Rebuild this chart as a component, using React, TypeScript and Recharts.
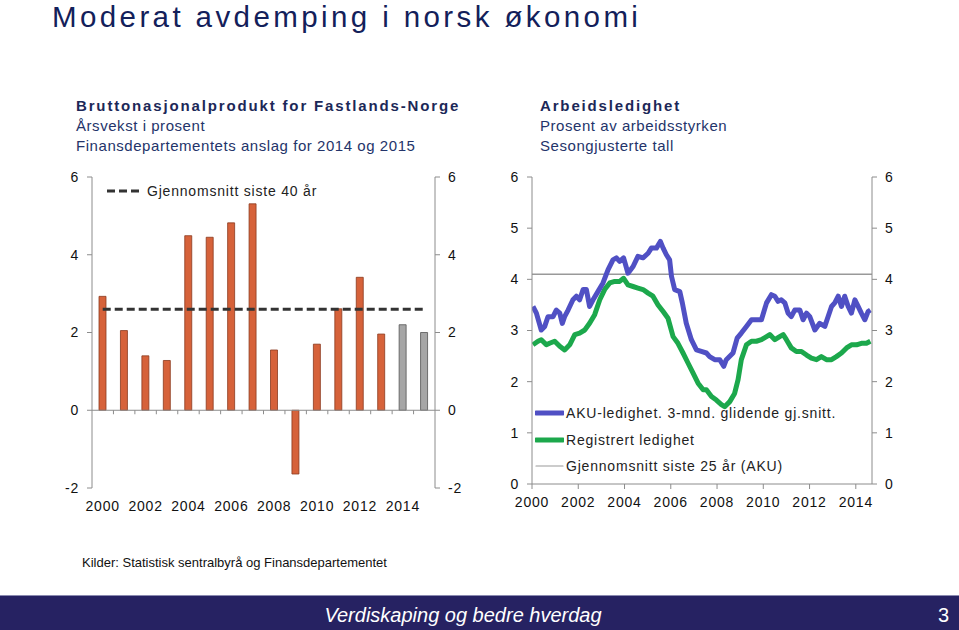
import { ComposedChart, LineChart, Bar, Line, Cell, XAxis, YAxis, ReferenceLine, Legend } from 'recharts';

// BNP Fastlands-Norge, årsvekst i prosent (2014 og 2015 er anslag)
const aar = ['2000', '2001', '2002', '2003', '2004', '2005', '2006', '2007', '2008', '2009', '2010', '2011', '2012', '2013', '2014', '2015'];
const bnpVekst = [2.93, 2.05, 1.4, 1.28, 4.49, 4.45, 4.82, 5.31, 1.55, -1.64, 1.7, 2.61, 3.42, 1.96, 2.2, 2.0];
const anslagAar = ['2014', '2015'];
const snitt40 = 2.6;

// Arbeidsledighet, prosent av arbeidsstyrken
const akuTid = [
  2000.04, 2000.19, 2000.4, 2000.55, 2000.69, 2000.91, 2001.05, 2001.2, 2001.31, 2001.41, 2001.56, 2001.77, 2001.92,
  2002.06, 2002.21, 2002.35, 2002.49, 2002.64, 2002.85, 2003.07, 2003.29, 2003.5, 2003.65, 2003.79, 2003.96, 2004.15,
  2004.37, 2004.58, 2004.8, 2005.02, 2005.16, 2005.38, 2005.55, 2005.67, 2005.81, 2005.95, 2006.03, 2006.17, 2006.39,
  2006.5, 2006.67, 2006.89, 2007.11, 2007.32, 2007.54, 2007.68, 2007.9, 2008.12, 2008.29, 2008.4, 2008.69, 2008.87,
  2009.05, 2009.27, 2009.49, 2009.7, 2009.92, 2010.14, 2010.35, 2010.5, 2010.64, 2010.78, 2010.93, 2011.07, 2011.21,
  2011.36, 2011.58, 2011.72, 2011.87, 2012.01, 2012.23, 2012.44, 2012.66, 2012.8, 2012.95, 2013.09, 2013.24, 2013.38,
  2013.52, 2013.67, 2013.81, 2013.96, 2014.1, 2014.24, 2014.39, 2014.53, 2014.63,
];
const akuVerdi = [
  3.47, 3.34, 3.01, 3.08, 3.27, 3.27, 3.4, 3.34, 3.14, 3.27, 3.4, 3.6, 3.67,
  3.6, 3.8, 3.8, 3.47, 3.6, 3.76, 3.93, 4.19, 4.38, 4.42, 4.35, 4.42, 4.12,
  4.25, 4.45, 4.42, 4.51, 4.61, 4.61, 4.74, 4.61, 4.48, 4.38, 4.06, 3.8, 3.76,
  3.54, 3.14, 2.82, 2.62, 2.59, 2.56, 2.49, 2.43, 2.43, 2.3, 2.43, 2.56, 2.85,
  2.95, 3.08, 3.21, 3.21, 3.21, 3.54, 3.7, 3.67, 3.57, 3.6, 3.54, 3.34, 3.27,
  3.4, 3.4, 3.21, 3.34, 3.27, 3.01, 3.14, 3.08, 3.27, 3.47, 3.54, 3.67, 3.47,
  3.67, 3.47, 3.34, 3.6, 3.47, 3.34, 3.21, 3.37, 3.4,
];
const regTid = [
  2000.04, 2000.26, 2000.4, 2000.62, 2000.76, 2000.98, 2001.2, 2001.41, 2001.63, 2001.85, 2002.06, 2002.28, 2002.49,
  2002.71, 2002.93, 2003.14, 2003.36, 2003.58, 2003.79, 2003.96, 2004.15, 2004.37, 2004.58, 2004.8, 2005.02, 2005.23,
  2005.45, 2005.67, 2005.88, 2006.1, 2006.31, 2006.53, 2006.75, 2006.96, 2007.18, 2007.4, 2007.54, 2007.76, 2007.97,
  2008.19, 2008.33, 2008.55, 2008.76, 2008.91, 2009.05, 2009.27, 2009.49, 2009.7, 2009.92, 2010.14, 2010.28, 2010.5,
  2010.71, 2010.86, 2011.0, 2011.21, 2011.43, 2011.65, 2011.87, 2012.08, 2012.3, 2012.51, 2012.73, 2012.95, 2013.16,
  2013.38, 2013.6, 2013.81, 2014.03, 2014.24, 2014.46, 2014.63,
];
const regVerdi = [
  2.72, 2.79, 2.82, 2.72, 2.75, 2.79, 2.69, 2.62, 2.72, 2.92, 2.95, 3.01, 3.14,
  3.31, 3.6, 3.8, 3.93, 3.96, 3.96, 4.02, 3.89, 3.86, 3.83, 3.8, 3.73, 3.67,
  3.5, 3.37, 3.24, 2.88, 2.75, 2.56, 2.36, 2.17, 1.97, 1.84, 1.84, 1.71, 1.64,
  1.55, 1.51, 1.61, 1.77, 2.04, 2.43, 2.72, 2.79, 2.79, 2.82, 2.88, 2.92, 2.82,
  2.88, 2.92, 2.82, 2.66, 2.59, 2.59, 2.52, 2.46, 2.43, 2.49, 2.43, 2.43, 2.49,
  2.56, 2.66, 2.72, 2.72, 2.75, 2.75, 2.79,
];
const snitt25 = 4.1;
const aarTicks = [2000, 2002, 2004, 2006, 2008, 2010, 2012, 2014];

const bnpData = aar.map((a, i) => ({ aar: a, vekst: bnpVekst[i], snitt: snitt40 }));
const akuData = akuTid.map((t, i) => ({ t, v: akuVerdi[i] }));
const regData = regTid.map((t, i) => ({ t, v: regVerdi[i] }));

const aksefarge = '#8c8c8c';
const tickStil = { fontSize: 14, fill: '#111', letterSpacing: 0.8 };

// nullinje med små streker mellom kategoriene
function NullLinje(props: any) {
  const { x1, x2, y1 } = props;
  const bredde = (x2 - x1) / aar.length;
  return (
    <g>
      <line x1={x1} x2={x2} y1={y1} y2={y1} stroke={aksefarge} strokeWidth={1} />
      {aar.slice(1).map((a, i) => (
        <line key={a} x1={x1 + bredde * (i + 1)} x2={x1 + bredde * (i + 1)} y1={y1} y2={y1 + 4} stroke={aksefarge} />
      ))}
    </g>
  );
}

function BnpLegend() {
  return (
    <div style={{ display: 'flex', alignItems: 'center', fontSize: 14, letterSpacing: 0.8, color: '#222' }}>
      <svg width={36} height={6}>
        <line x1={0} x2={34} y1={3} y2={3} stroke="#333" strokeWidth={3} strokeDasharray="8 4" />
      </svg>
      <span style={{ marginLeft: 4 }}>Gjennomsnitt siste 40 år</span>
    </div>
  );
}

function LedighetLegend() {
  const rader = [
    { navn: 'AKU-ledighet. 3-mnd. glidende gj.snitt.', farge: '#5050c4', bredde: 5 },
    { navn: 'Registrert ledighet', farge: '#1ca84c', bredde: 5 },
    { navn: 'Gjennomsnitt siste 25 år (AKU)', farge: '#999', bredde: 1.2 },
  ];
  return (
    <div style={{ fontSize: 14, letterSpacing: 0.8, color: '#222' }}>
      {rader.map((r) => (
        <div key={r.navn} style={{ display: 'flex', alignItems: 'center', height: 26.5 }}>
          <svg width={29} height={8}>
            <line x1={1} x2={28} y1={4} y2={4} stroke={r.farge} strokeWidth={r.bredde} strokeLinecap="round" />
          </svg>
          <span style={{ marginLeft: 2 }}>{r.navn}</span>
        </div>
      ))}
    </div>
  );
}

export default function App() {
  return (
    <div
      style={{
        position: 'fixed',
        left: 0,
        top: 0,
        width: 959,
        height: 630,
        background: '#fff',
        overflow: 'hidden',
        fontFamily: '"Liberation Sans", Arial, sans-serif',
      }}
    >
      <div
        style={{
          position: 'absolute',
          left: 52,
          top: 0,
          fontSize: 29.5,
          letterSpacing: 3.4,
          color: '#13205a',
          whiteSpace: 'nowrap',
        }}
      >
        Moderat avdemping i norsk økonomi
      </div>

      <div style={{ position: 'absolute', left: 76, top: 96, fontSize: 15, lineHeight: '20px', letterSpacing: 0.55, color: '#24346a' }}>
        <div style={{ fontWeight: 'bold', letterSpacing: 1.85, color: '#1c2858' }}>Bruttonasjonalprodukt for Fastlands-Norge</div>
        <div>Årsvekst i prosent</div>
        <div>Finansdepartementets anslag for 2014 og 2015</div>
      </div>
      <div style={{ position: 'absolute', left: 540, top: 96, fontSize: 15, lineHeight: '20px', letterSpacing: 0.55, color: '#24346a' }}>
        <div style={{ fontWeight: 'bold', letterSpacing: 1.85, color: '#1c2858' }}>Arbeidsledighet</div>
        <div>Prosent av arbeidsstyrken</div>
        <div>Sesongjusterte tall</div>
      </div>

      <div style={{ position: 'absolute', left: 40, top: 165 }}>
        <ComposedChart width={440} height={360} data={bnpData} margin={{ top: 12, right: 0, bottom: 0, left: 0 }}>
          <XAxis
            dataKey="aar"
            interval={1}
            height={37}
            axisLine={false}
            tickLine={false}
            tickSize={0}
            tickMargin={13}
            tick={tickStil}
          />
          <YAxis
            yAxisId="v"
            width={52}
            domain={[-2, 6]}
            ticks={[-2, 0, 2, 4, 6]}
            axisLine={{ stroke: aksefarge }}
            tickLine={{ stroke: aksefarge }}
            tickSize={5}
            tickMargin={8}
            tick={tickStil}
          />
          <YAxis
            yAxisId="h"
            orientation="right"
            width={45}
            domain={[-2, 6]}
            ticks={[-2, 0, 2, 4, 6]}
            axisLine={{ stroke: aksefarge }}
            tickLine={{ stroke: aksefarge }}
            tickSize={5}
            tickMargin={8}
            tick={tickStil}
          />
          <ReferenceLine yAxisId="v" y={0} shape={NullLinje} />
          <Bar yAxisId="v" dataKey="vekst" barSize={7} isAnimationActive={false}>
            {bnpData.map((d) => (
              <Cell
                key={d.aar}
                fill={anslagAar.includes(d.aar) ? '#a6a6a6' : '#d6623a'}
                stroke={anslagAar.includes(d.aar) ? '#555' : '#8a3a1e'}
                strokeWidth={0.8}
              />
            ))}
          </Bar>
          <Line
            yAxisId="h"
            dataKey="snitt"
            stroke="#333"
            strokeWidth={3}
            strokeDasharray="8 4"
            dot={false}
            activeDot={false}
            isAnimationActive={false}
          />
          <Legend
            layout="vertical"
            align="center"
            verticalAlign="middle"
            wrapperStyle={{ left: 67, top: 18, width: 'auto' }}
            content={() => <BnpLegend />}
          />
        </ComposedChart>
      </div>

      <div style={{ position: 'absolute', left: 480, top: 165 }}>
        <LineChart width={430} height={355} margin={{ top: 12, right: 0, bottom: 0, left: 0 }}>
          <XAxis
            dataKey="t"
            type="number"
            domain={[2000, 2014.7]}
            allowDataOverflow
            ticks={aarTicks}
            height={36}
            axisLine={{ stroke: aksefarge }}
            tickLine={{ stroke: aksefarge }}
            tickSize={5}
            tickMargin={8}
            tick={tickStil}
          />
          <YAxis
            yAxisId="v"
            width={52}
            domain={[0, 6]}
            ticks={[0, 1, 2, 3, 4, 5, 6]}
            axisLine={{ stroke: aksefarge }}
            tickLine={{ stroke: aksefarge }}
            tickSize={5}
            tickMargin={8}
            tick={tickStil}
          />
          <YAxis
            yAxisId="h"
            orientation="right"
            width={38}
            domain={[0, 6]}
            ticks={[0, 1, 2, 3, 4, 5, 6]}
            axisLine={{ stroke: aksefarge }}
            tickLine={{ stroke: aksefarge }}
            tickSize={5}
            tickMargin={8}
            tick={tickStil}
          />
          <ReferenceLine yAxisId="v" y={snitt25} stroke="#999" strokeWidth={1.5} />
          <Line
            yAxisId="h"
            data={regData}
            dataKey="v"
            stroke="#1ca84c"
            strokeWidth={5}
            strokeLinejoin="round"
            dot={false}
            activeDot={false}
            isAnimationActive={false}
          />
          <Line
            yAxisId="v"
            data={akuData}
            dataKey="v"
            stroke="#5050c4"
            strokeWidth={5}
            strokeLinejoin="round"
            dot={false}
            activeDot={false}
            isAnimationActive={false}
          />
          <Legend
            layout="vertical"
            align="center"
            verticalAlign="middle"
            wrapperStyle={{ left: 55, top: 235, width: 'auto' }}
            content={() => <LedighetLegend />}
          />
        </LineChart>
      </div>

      <div style={{ position: 'absolute', left: 82, top: 555, fontSize: 13, color: '#111' }}>
        Kilder: Statistisk sentralbyrå og Finansdepartementet
      </div>

      <div
        style={{
          position: 'absolute',
          left: 0,
          top: 595,
          width: 959,
          height: 35,
          background: '#262262',
          borderTop: '1px solid #8a8ab0',
          color: '#fff',
          fontSize: 20,
        }}
      >
        <div style={{ position: 'absolute', left: 0, width: 926, top: 8, textAlign: 'center', fontStyle: 'italic' }}>
          Verdiskaping og bedre hverdag
        </div>
        <div style={{ position: 'absolute', left: 938, top: 8 }}>3</div>
      </div>
    </div>
  );
}
